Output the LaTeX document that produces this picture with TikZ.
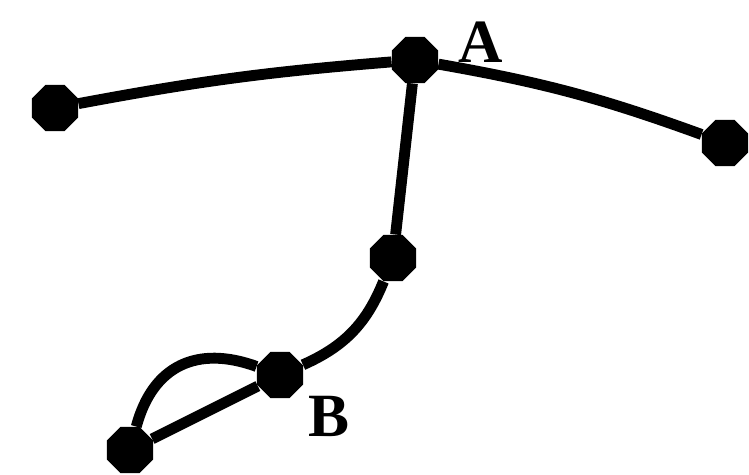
\documentclass[tikz,border=0pt]{standalone}
\usepackage{fontspec}
\setmainfont{Liberation Serif}
\usetikzlibrary{shapes.geometric,positioning}

\begin{document}
\begin{tikzpicture}[
  x=0.02cm, y=-0.02cm,
  edge/.style={line width=6.2pt, draw=black, line join=round},
  vtx/.style={regular polygon, regular polygon sides=8, fill=black,
              inner sep=0pt, minimum size=1cm},
  lbl/.style={font=\fontsize{35}{40}\selectfont\bfseries, inner sep=0pt}
]
\useasboundingbox (0,0) rectangle (749,474);

% ---------- vertices ----------
\node[vtx] (L)  at (55,108)  {};
\node[vtx] (A)  at (415,60)  {};
\node[vtx] (R)  at (725,143) {};
\node[vtx] (M)  at (393,258) {};
\node[vtx] (B)  at (280,375) {};
\node[vtx] (BL) at (130,450) {};

% ---------- edges ----------
\draw[edge] (L) to[bend left=3] (A);
\draw[edge] (A) to[bend left=5] (R);
\draw[edge] (A) -- (M);
\draw[edge] (M) to[bend left=22] (B);
\draw[edge] (B) -- (BL);
\draw[edge] (B) to[out=160, in=75, looseness=1.2] (BL);

% ---------- labels ----------
\node[lbl] (la) at (481,42)  {A};
\node[lbl] (lb) at (329,416) {B};

\end{tikzpicture}
\end{document}
